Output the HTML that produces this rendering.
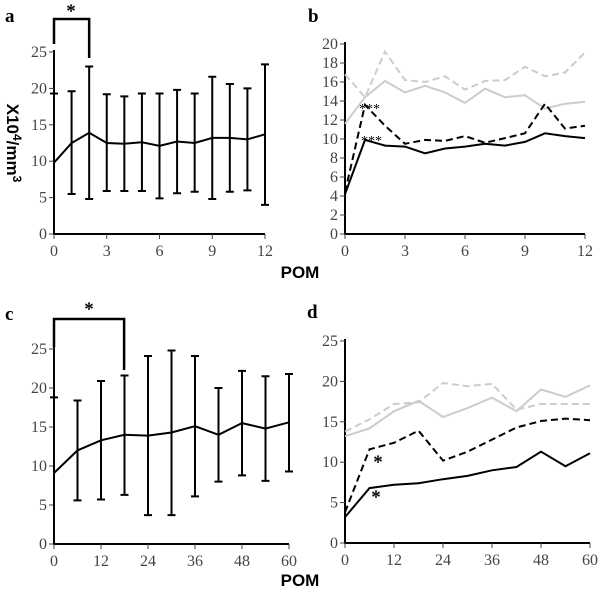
<!DOCTYPE html>
<html><head><meta charset="utf-8"><style>
body{margin:0;background:#fff;}
svg text{font-family:"Liberation Serif",serif;}
.tk{font-size:16px;fill:#444;}
.pl{font-size:19px;font-weight:bold;fill:#000;}
.ax{font-family:"Liberation Sans",sans-serif !important;font-weight:bold;font-size:17px;}
</style></head><body>
<svg id="fig" width="600" height="601" viewBox="0 0 600 601" xmlns="http://www.w3.org/2000/svg"></svg>
<script>
// Panel a
const aX=[0,1,2,3,4,5,6,7,8,9,10,11,12];
const aMean=[9.8,12.5,13.9,12.5,12.4,12.6,12.1,12.7,12.5,13.2,13.2,13.0,13.7];
const aHigh=[19.3,19.6,23,19.2,18.9,19.3,19.3,19.8,19.3,21.6,20.6,20.0,23.3];
const aLow=[null,5.5,4.8,5.9,5.9,5.9,4.9,5.6,5.8,4.8,5.8,6.0,4.0];
const aXTicks=[0,3,6,9,12];
const aYTicks=[0,5,10,15,20,25];
// Panel b
const bX=[0,1,2,3,4,5,6,7,8,9,10,11,12];
const bBlackSolid=[4.2,9.9,9.3,9.2,8.5,9.0,9.2,9.5,9.3,9.7,10.6,10.3,10.1];
const bBlackDash=[4.4,13.6,11.4,9.5,9.9,9.8,10.3,9.6,10.1,10.6,13.7,11.1,11.4];
const bGreySolid=[11.6,14.4,16.1,14.9,15.6,14.9,13.8,15.3,14.4,14.6,13.2,13.7,13.9];
const bGreyDash=[16.8,14.4,19.2,16.2,16.0,16.6,15.2,16.1,16.2,17.6,16.6,17.0,19.1];
const bXTicks=[0,3,6,9,12];
const bYTicks=[0,2,4,6,8,10,12,14,16,18,20];
// Panel c
const cX=[0,6,12,18,24,30,36,42,48,54,60];
const cMean=[9.1,12.0,13.3,14.0,13.9,14.3,15.1,14.0,15.5,14.8,15.6];
const cHigh=[18.8,18.4,20.9,21.6,24.1,24.8,24.1,20.0,22.2,21.5,21.8];
const cLow=[null,5.6,5.7,6.3,3.7,3.7,6.1,8.0,8.8,8.1,9.3];
const cXTicks=[0,12,24,36,48,60];
const cYTicks=[0,5,10,15,20,25];
// Panel d
const dX=[0,6,12,18,24,30,36,42,48,54,60];
const dBlackSolid=[3.2,6.8,7.2,7.4,7.9,8.3,9.0,9.4,11.3,9.5,11.1];
const dBlackDash=[3.8,11.6,12.4,13.9,10.2,11.3,12.8,14.3,15.1,15.4,15.2];
const dGreySolid=[13.2,14.2,16.3,17.6,15.6,16.7,18.0,16.3,19.0,18.1,19.5];
const dGreyDash=[13.8,15.3,17.2,17.4,19.8,19.4,19.7,16.5,17.2,17.2,17.2];
const dXTicks=[0,12,24,36,48,60];
const dYTicks=[0,5,10,15,20,25];

const NS="http://www.w3.org/2000/svg";
const svg=document.getElementById('fig');
function el(tag,attrs,parent){const e=document.createElementNS(NS,tag);for(const k in attrs)e.setAttribute(k,attrs[k]);(parent||svg).appendChild(e);return e;}
function txt(x,y,s,cls,anchor,parent){const t=el('text',{x:x,y:y,class:cls,'text-anchor':anchor||'middle'},parent);t.textContent=s;return t;}

function panel(name,x0,x1,xmax,y0,y1,ymax,xt,yt){
  const g=el('g',{});
  
  
  const sx=v=>x0+(x1-x0)*v/xmax, sy=v=>y0-(y0-y1)*v/ymax;
  const ax=el('path',{d:`M${x0},${y1-2}V${y0}H${x1}`,stroke:'#000','stroke-width':2,fill:'none'},g);
  
  
  yt.forEach(v=>{el('line',{x1:x0-5,x2:x0,y1:sy(v),y2:sy(v),stroke:'#444','stroke-width':1},g);
    const t=txt(x0-7,sy(v)+5,String(v),'tk','end',g);
    
    });
  xt.forEach(v=>{el('line',{x1:sx(v),x2:sx(v),y1:y0,y2:y0+5,stroke:'#444','stroke-width':1},g);
    const t=txt(sx(v),y0+22,String(v),'tk','middle',g);
    
    });
  return {g,sx,sy};
}
function line(p,xs,ys,color,dash,nm){
  const d=xs.map((x,i)=>(i?'L':'M')+p.sx(x).toFixed(1)+','+p.sy(ys[i]).toFixed(1)).join('');
  const e=el('path',{d:d,stroke:color,'stroke-width':2,fill:'none','stroke-dasharray':dash||'none'},p.g);
  
  
}
function errs(p,xs,hi,lo,nm){
  xs.forEach((x,i)=>{
    const X=p.sx(x), yh=p.sy(hi[i]), yl=lo[i]==null?p.sy(0):p.sy(lo[i]);
    const e=el('path',{d:`M${X},${yh}V${yl}M${X-4},${yh}H${X+4}`+(lo[i]==null?'':`M${X-4},${yl}H${X+4}`),stroke:'#000','stroke-width':2,fill:'none'},p.g);
    
    
  });
}

// a
const pa=panel('a',54,265,12,234,52,25,aXTicks,aYTicks);
errs(pa,aX,aHigh,aLow,'a');
line(pa,aX,aMean,'#000',null,'a-mean-line');
el('path',{d:`M${pa.sx(0)},44V19H${pa.sx(2)}V58`,stroke:'#000','stroke-width':2.5,fill:'none'},pa.g);
txt(71,17,'*','pl','middle',pa.g);
// b
const pb=panel('b',345,585,12,234,44,20,bXTicks,bYTicks);
line(pb,bX,bGreyDash,'#ccc','7,4','b-grey-dashed');
line(pb,bX,bGreySolid,'#ccc',null,'b-grey-solid');
line(pb,bX,bBlackDash,'#000','7,4','b-black-dashed');
line(pb,bX,bBlackSolid,'#000',null,'b-black-solid');
txt(359,113,'***','tk','start',pb.g).setAttribute('style','fill:#000;font-size:14px');
txt(361,145,'***','tk','start',pb.g).setAttribute('style','fill:#000;font-size:14px');
// c
const pc=panel('c',54,289,60,544,349,25,cXTicks,cYTicks);
errs(pc,cX,cHigh,cLow,'c');
line(pc,cX,cMean,'#000',null,'c-mean-line');
el('path',{d:`M${pc.sx(0)},347V319H${pc.sx(17.9)}V370`,stroke:'#000','stroke-width':2.5,fill:'none'},pc.g);
txt(89,315,'*','pl','middle',pc.g);
// d
const pd=panel('d',345,590,60,543,341,25,dXTicks,dYTicks);
line(pd,dX,dGreyDash,'#ccc','7,4','d-grey-dashed');
line(pd,dX,dGreySolid,'#ccc',null,'d-grey-solid');
line(pd,dX,dBlackDash,'#000','7,4','d-black-dashed');
line(pd,dX,dBlackSolid,'#000',null,'d-black-solid');
txt(378,468,'*','pl','middle',pd.g);
txt(376,503,'*','pl','middle',pd.g);

// labels
[['a',5,22],['b',308,22],['c',5,320],['d',307,318]].forEach(l=>{const t=txt(l[1],l[2],l[0],'pl','start');
  
  });
const pom1=txt(300,278,'POM','ax','middle');


const pom2=txt(300,586,'POM','ax','middle');


const yt=el('text',{x:0,y:0,class:'ax','text-anchor':'middle',transform:'translate(7,143) rotate(90)'});
yt.innerHTML='X10<tspan dy="-6" font-size="12">4</tspan><tspan dy="6">/mm</tspan><tspan dy="-6" font-size="12">3</tspan>';


</script>
</body></html>
